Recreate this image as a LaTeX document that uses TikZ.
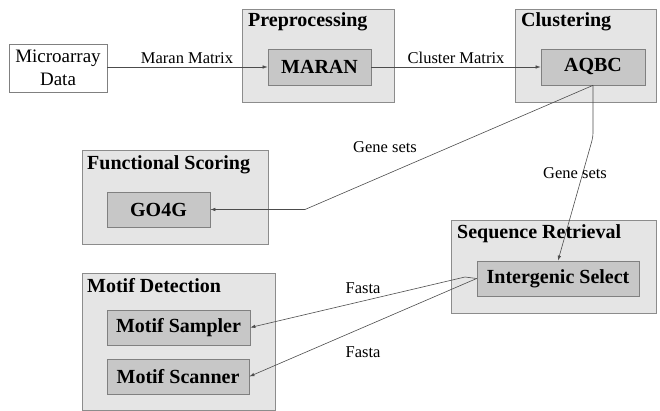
\documentclass[tikz,border=0pt]{standalone}
\usepackage{fontspec}
\setmainfont{Liberation Serif}
\usetikzlibrary{arrows.meta}
\begin{document}
\begin{tikzpicture}[x=1pt,y=-1pt,
  stage/.style={draw=black!45, fill=black!10, line width=0.7pt, inner sep=0pt},
  unit/.style={draw=black!50, fill=black!22, line width=0.7pt, inner sep=0pt,
    font=\fontsize{20}{22}\selectfont\bfseries},
  source/.style={draw=black!50, fill=white, line width=0.7pt, inner sep=0pt,
    align=center, font=\fontsize{19}{22.5}\selectfont},
  title/.style={anchor=west, inner sep=0pt, font=\fontsize{20}{22}\selectfont\bfseries},
  flow/.style={draw=black!70, line width=0.6pt, -{Latex[length=5pt,width=3.5pt]}},
  lbl/.style={inner sep=0pt, font=\fontsize{16.5}{18}\selectfont}]
\useasboundingbox (0,0) rectangle (660,411);

% stage frames
\node[stage, minimum width=152pt, minimum height=93pt] (pre) at (318,55.5) {};
\node[stage, minimum width=141pt, minimum height=93pt] (clu) at (585.5,55.5) {};
\node[stage, minimum width=186pt, minimum height=94pt] (fun) at (175,197) {};
\node[stage, minimum width=205pt, minimum height=93pt] (seq) at (553.5,266.5) {};
\node[stage, minimum width=193pt, minimum height=137pt] (mot) at (178.5,341.5) {};

% stage titles
\node[title] (preT) at (248,22) {Preprocessing};
\node[title] (cluT) at (521,22) {Clustering};
\node[title] (funT) at (87,165) {Functional Scoring};
\node[title] (seqT) at (457,234) {Sequence Retrieval};
\node[title] (motT) at (87,286) {Motif Detection};

% input and processing units
\node[source, minimum width=98pt, minimum height=48pt] (micro) at (58,68) {Microarray\\Data};
\node[unit, minimum width=103pt, minimum height=36pt] (maran) at (319.5,67) {MARAN};
\node[unit, minimum width=104pt, minimum height=36pt] (aqbc) at (593,67) {AQBC};
\node[unit, minimum width=103pt, minimum height=35pt] (go4g) at (158.5,209.5) {GO4G};
\node[unit, minimum width=162pt, minimum height=35pt] (inter) at (558,278.5) {Intergenic Select};
\node[unit, minimum width=143pt, minimum height=35pt] (samp) at (178.5,327.5) {Motif Sampler};
\node[unit, minimum width=142pt, minimum height=35pt] (scan) at (178,376.5) {Motif Scanner};

% bend points
\coordinate (gbend) at (305,209.5);
\coordinate (sbend) at (593,137);
\coordinate (ftop) at (465,277);

% data flow
\draw[flow] (micro.east |- maran.west) -- (maran.west);
\draw[flow] (maran.east) -- (aqbc.west);
\draw[flow] (aqbc.south) -- (gbend) -- (go4g.east);
\draw[flow, rounded corners=4pt] (aqbc.south) -- (sbend) -- (inter.north);
\draw[flow] (inter.west) -- (ftop) -- (samp.east);
\draw[flow] (inter.west) -- (scan.east);

% flow labels
\node[lbl] (l1) at (187,58) {Maran Matrix};
\node[lbl] (l2) at (456,58) {Cluster Matrix};
\node[lbl] (l3) at (385,147) {Gene sets};
\node[lbl] (l4) at (575,173) {Gene sets};
\node[lbl] (l5) at (363,288) {Fasta};
\node[lbl] (l6) at (363,352) {Fasta};
\end{tikzpicture}
\end{document}
